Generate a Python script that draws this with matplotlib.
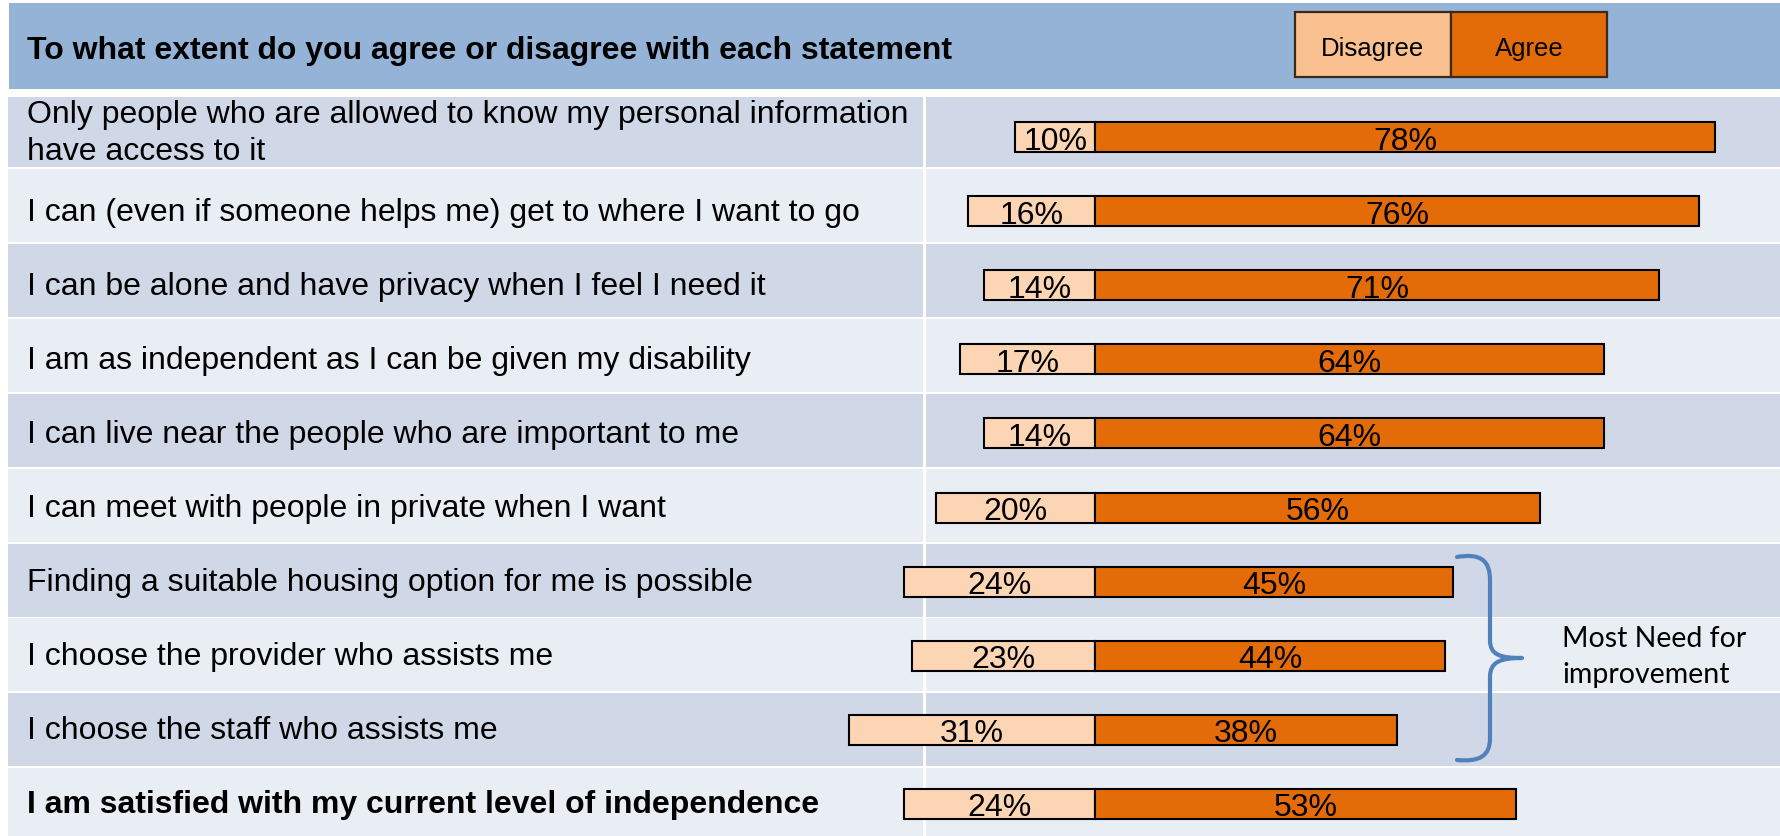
import matplotlib
matplotlib.use("Agg")
import matplotlib.pyplot as plt
from matplotlib.patches import Rectangle, PathPatch
from matplotlib.path import Path

# ---- data ----
statements = [
    "Only people who are allowed to know my personal information\nhave access to it",
    "I can (even if someone helps me) get to where I want to go",
    "I can be alone and have privacy when I feel I need it",
    "I am as independent as I can be given my disability",
    "I can live near the people who are important to me",
    "I can meet with people in private when I want",
    "Finding a suitable housing option for me is possible",
    "I choose the provider who assists me",
    "I choose the staff who assists me",
    "I am satisfied with my current level of independence",
]
disagree = [10, 16, 14, 17, 14, 20, 24, 23, 31, 24]
agree = [78, 76, 71, 64, 64, 56, 45, 44, 38, 53]
title = "To what extent do you agree or disagree with each statement"
legend_labels = ["Disagree", "Agree"]
note = "Most Need for\nimprovement"

# ---- styles ----
W, H = 1781, 836
HEADER = "#95B3D7"
ROW_DARK = "#D0D8E8"
ROW_LIGHT = "#E9EDF4"
DIS_C = "#FCD5B4"
DIS_LEG = "#FAC090"
AGR_C = "#E36C09"
BRACE_C = "#4F81BD"
SANS = ["Liberation Sans", "DejaVu Sans"]

fig = plt.figure(figsize=(W / 100, H / 100), dpi=100)
fig.patch.set_facecolor("white")

# background axes in pixel units
bg = fig.add_axes([0, 0, 1, 1])
bg.set_xlim(0, W)
bg.set_ylim(H, 0)
bg.axis("off")

# header band
bg.add_patch(Rectangle((9, 3), W - 9, 86, facecolor=HEADER, edgecolor="none"))
# table rows
row_tops = [97] + [169 + 74.9 * (i - 1) for i in range(1, 10)]
row_bots = [167] + [t + 73 for t in row_tops[1:]]
row_bots[-1] = H
for i, (t, b) in enumerate(zip(row_tops, row_bots)):
    c = ROW_DARK if i % 2 == 0 else ROW_LIGHT
    bg.add_patch(Rectangle((8, t), 923 - 8, b - t, facecolor=c, edgecolor="none"))
    bg.add_patch(Rectangle((926, t), W - 926, b - t, facecolor=c, edgecolor="none"))

# title
bg.text(27, 51, title, fontsize=23, fontweight="bold", family=SANS,
        ha="left", va="center", color="black")

# legend boxes
bg.add_patch(Rectangle((1295, 12), 156, 65, facecolor=DIS_LEG, edgecolor="#3a2a1c", lw=1.6))
bg.add_patch(Rectangle((1451, 12), 156, 65, facecolor=AGR_C, edgecolor="#3a2a1c", lw=1.6))
bg.text(1373, 49, legend_labels[0], fontsize=18.5, family=SANS, ha="center", va="center")
bg.text(1529, 49, legend_labels[1], fontsize=18.5, family=SANS, ha="center", va="center")

# bar axes: x in percent, y in row units
ZERO_PX, PX_PER = 1095, 7.95
Y0, PITCH = 137, 74.1
ax = fig.add_axes([0, 0, 1, 1])
ax.set_xlim(-ZERO_PX / PX_PER, (W - ZERO_PX) / PX_PER)
ax.set_ylim((H - Y0) / PITCH, -Y0 / PITCH)
ax.patch.set_alpha(0)
ax.axis("off")

ypos = list(range(len(statements)))
bh = 30 / PITCH
ax.barh(ypos, [-d for d in disagree], height=bh, color=DIS_C, edgecolor="black", lw=1.5)
ax.barh(ypos, agree, height=bh, color=AGR_C, edgecolor="black", lw=1.5)
base_off = 12.5 / PITCH
for y, d, a in zip(ypos, disagree, agree):
    ax.text(-d / 2, y + base_off, f"{d}%", fontsize=23, family=SANS, ha="center", va="baseline")
    ax.text(a / 2, y + base_off, f"{a}%", fontsize=23, family=SANS, ha="center", va="baseline")

# statement labels
for i, s in enumerate(statements):
    yc = Y0 + PITCH * i + 1.5
    if "\n" in s:
        yc -= 5
    bg.text(27, yc, s, fontsize=23, family=SANS, ha="left", va="center",
            linespacing=1.3, fontweight="bold" if i == len(statements) - 1 else "normal")

# brace
verts = [(1457, 557), (1480, 553), (1490, 560), (1490, 580),
         (1490, 640),
         (1490, 655), (1500, 658), (1522, 658),
         (1500, 658), (1490, 662), (1490, 677),
         (1490, 738),
         (1490, 756), (1480, 762), (1457, 760)]
codes = [Path.MOVETO, Path.CURVE4, Path.CURVE4, Path.CURVE4,
         Path.LINETO,
         Path.CURVE4, Path.CURVE4, Path.CURVE4,
         Path.CURVE4, Path.CURVE4, Path.CURVE4,
         Path.LINETO,
         Path.CURVE4, Path.CURVE4, Path.CURVE4]
bg.add_patch(PathPatch(Path(verts, codes), facecolor="none", edgecolor=BRACE_C,
                       lw=3, capstyle="round", joinstyle="round", zorder=5))
bg.text(1562, 657, note, fontsize=20.5, family=["Lato", "DejaVu Sans"], ha="left",
        va="center", linespacing=1.45)

fig.savefig("out.png", dpi=100)
